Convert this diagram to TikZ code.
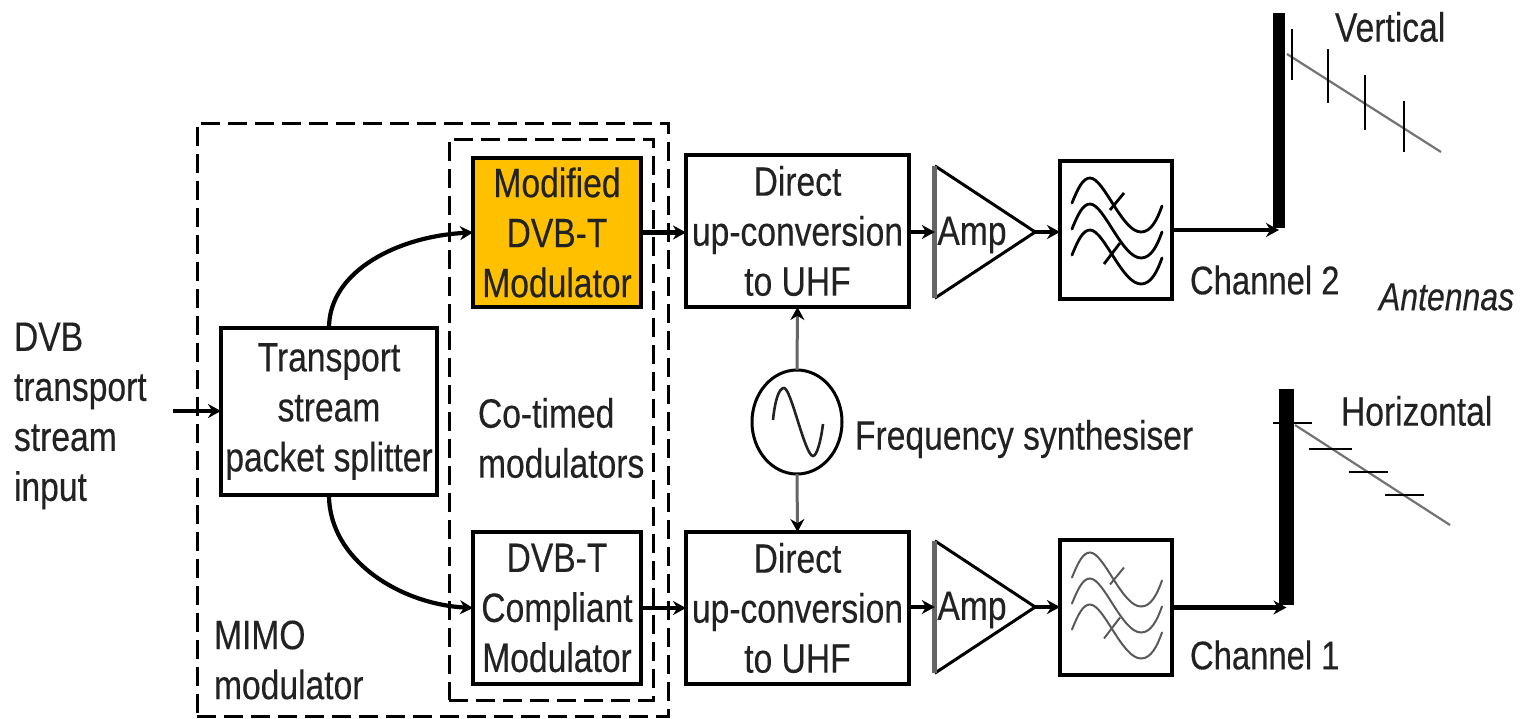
\documentclass[tikz,border=0pt]{standalone}
\usepackage{fontspec}
\setmainfont[FakeStretch=0.82,FakeBold=0.25]{Liberation Sans}
\usetikzlibrary{arrows.meta}
\definecolor{ink}{HTML}{222222}
\definecolor{modfill}{HTML}{FFC000}
\tikzset{
  x=1pt,y=-1pt,
  txt/.style={text=ink,font=\fontsize{41}{50}\selectfont,inner sep=0pt,outer sep=0pt},
  blockbox/.style={draw=black,line width=3.5pt,inner sep=0pt,align=center,txt},
  dashbox/.style={draw=black,line width=3pt,dash pattern=on 19pt off 8pt},
  sig/.style={line width=4.2pt,-{Stealth[length=13pt,width=14pt]},black},
  lo/.style={line width=3pt,draw=black!60,-{Stealth[length=13pt,width=14pt,color=black]}},
  mast/.style={fill=black,draw=none},
  boom/.style={line width=2.2pt,draw=black!55},
  dip/.style={line width=2.8pt,black},
  wave/.pic={
    \foreach \o in {0,26,52}{
      \draw[pic actions,line cap=round] (-44,-27+\o) .. controls (-38,-42+\o) and (-33,-52+\o) .. (-26,-52+\o)
        .. controls (-12,-52+\o) and (6,2+\o) .. (25,2+\o)
        .. controls (35,2+\o) and (41,-10+\o) .. (46,-24+\o);
    }
    \draw[pic actions] (-6,-20) -- (8,-37);
    \draw[pic actions] (-12,34) -- (4,13);
  }
}
\begin{document}
\begin{tikzpicture}
\useasboundingbox (0,0) rectangle (1524,718);
% dashed groups
\node[dashbox,minimum width=471pt,minimum height=593pt,inner sep=0pt] (mimo) at (432.5,419.5) {};
\node[dashbox,minimum width=204pt,minimum height=561pt,inner sep=0pt] (cotimed) at (551,419.5) {};
% blocks
\node[blockbox,minimum width=216pt,minimum height=167pt] (split) at (329,411.5)
  {\raisebox{-8pt}{\parbox{210pt}{\centering Transport\\stream\\packet splitter}}};
\node[blockbox,fill=modfill,minimum width=168pt,minimum height=149pt] (mod) at (557,232.5)
  {\raisebox{-4pt}{\parbox{160pt}{\centering Modified\\DVB-T\\Modulator}}};
\node[blockbox,minimum width=168pt,minimum height=152pt] (comp) at (557,608)
  {\raisebox{-1pt}{\parbox{160pt}{\centering DVB-T\\Compliant\\Modulator}}};
\node[blockbox,minimum width=223pt,minimum height=152pt] (up2) at (797.5,231)
  {\raisebox{-5pt}{\parbox{216pt}{\centering Direct\\up-conversion\\to UHF}}};
\node[blockbox,minimum width=223pt,minimum height=152pt] (up1) at (797.5,608)
  {\raisebox{-3pt}{\parbox{216pt}{\centering Direct\\up-conversion\\to UHF}}};
% amplifiers
\node[minimum width=100pt,minimum height=132pt,inner sep=0pt] (amp2) at (985,232) {};
\node[minimum width=100pt,minimum height=132pt,inner sep=0pt] (amp1) at (985,607) {};
\foreach \a in {amp2,amp1}{
  \draw[line width=3pt,line join=miter] (\a.north west) -- (\a.east) -- (\a.south west);
  \draw[line width=5pt,draw=black!60] (\a.north west) -- (\a.south west);
}
\node[txt,anchor=center] (amptext2) at (972,235) {Amp};
\node[txt,anchor=center] (amptext1) at (972,610) {Amp};
% filters
\node[blockbox,minimum width=112pt,minimum height=138pt] (fil2) at (1116,230) {};
\node[blockbox,minimum width=112pt,minimum height=135pt] (fil1) at (1116,607.5) {};
\pic[draw=black,line width=2.8pt] at (fil2.center) {wave};
\pic[draw=black!65,line width=2pt] at ([yshift=3pt]fil1.center) {wave};
% oscillator
\draw[line width=3pt] (797,422) ellipse [x radius=45,y radius=52];
\node[minimum width=90pt,minimum height=104pt,inner sep=0pt] (osc) at (797,422) {};
\draw[line width=2.6pt,draw=ink] (773,420) .. controls (775,400) and (779,388) .. (784,388)
  .. controls (791,388) and (805,456) .. (813,456)
  .. controls (817,456) and (821,440) .. (823,424);
% antennas
\node[mast,minimum width=12pt,minimum height=215pt,inner sep=0pt] (mast2) at (1279,120.5) {};
\node[mast,minimum width=15pt,minimum height=216pt,inner sep=0pt] (mast1) at (1286.5,497) {};
\coordinate (bv1) at (1287,54); \coordinate (bv2) at (1441,152);
\coordinate (bh1) at (1295,425); \coordinate (bh2) at (1450,525);
\draw[boom] (bv1) -- (bv2);
\draw[boom] (bh1) -- (bh2);
\draw[dip] (1292,29) -- (1292,80);
\draw[dip] (1328,49) -- (1328,103);
\draw[dip] (1365,75) -- (1365,130);
\draw[dip] (1404,101) -- (1404,152);
\draw[dip] (1273,423) -- (1312,423);
\draw[dip] (1309,449) -- (1352,449);
\draw[dip] (1349,472) -- (1388,472);
\draw[dip] (1385,495) -- (1424,495);
% signal connectors
\coordinate (inp) at (173,411);
\draw[sig] (inp) -- (split.west |- inp);
\draw[sig] (split.north) .. controls (329,270) and (400,236) .. (mod.west);
\draw[sig] (split.south) .. controls (329,560) and (400,604) .. (comp.west);
\draw[sig] (mod.east) -- (up2.west |- mod.east);
\draw[sig] (comp.east) -- (up1.west |- comp.east);
\draw[sig] (up2.east |- amp2.west) -- (amp2.west);
\draw[sig] (up1.east |- amp1.west) -- (amp1.west);
\draw[sig] (amp2.east) -- (fil2.west |- amp2.east);
\draw[sig] (amp1.east) -- (fil1.west |- amp1.east);
\draw[sig] (fil2.east) -- (mast2.south |- fil2.east);
\draw[sig] (fil1.east) -- (mast1.south |- fil1.east);
\draw[lo] (osc.north) -- (up2.south);
\draw[lo] (osc.south) -- (up1.north);
% labels
\node[txt,anchor=west,align=left] (dvb) at (14,416) {DVB\\transport\\stream\\input};
\node[txt,anchor=west,align=left] (cot) at (478,438) {Co-timed\\modulators};
\node[txt,anchor=west,align=left] (mim) at (214,660) {MIMO\\modulator};
\node[txt,anchor=west] (fs) at (855,439) {Frequency synthesiser};
\node[txt,anchor=west,font=\fontsize{40}{50}\selectfont] (ch2) at (1190,280) {Channel 2};
\node[txt,anchor=west,font=\fontsize{40}{50}\selectfont] (ch1) at (1190,655) {Channel 1};
\node[txt,anchor=west] (vert) at (1335,27) {Vertical};
\node[txt,anchor=west] (hor) at (1341,411) {Horizontal};
\node[txt,anchor=west,font=\fontsize{39}{44}\selectfont\itshape] (ant) at (1379,297) {Antennas};
\end{tikzpicture}
\end{document}
